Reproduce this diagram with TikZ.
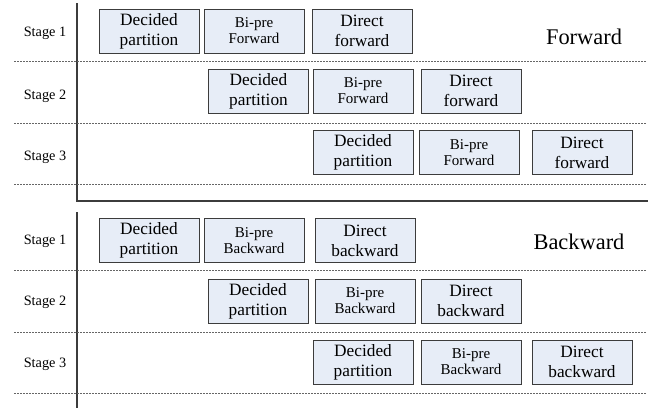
\documentclass[tikz,border=0pt]{standalone}
\usepackage{fontspec}
\setmainfont{Liberation Serif}
\usepackage{tikz}

\definecolor{boxfill}{RGB}{231,237,247}
\definecolor{boxline}{RGB}{60,60,60}
\tikzset{
	stagebox/.style={draw=boxline,line width=0.9pt,fill=boxfill,minimum width=100pt,minimum height=44pt,inner sep=1pt,align=center,font=\fontsize{17.3}{20}\selectfont},
	prebox/.style={stagebox,font=\fontsize{15}{16}\selectfont},
	stagelab/.style={font=\fontsize{14.3}{16}\selectfont},
	sep/.style={draw=gray!80!black,line width=0.7pt,dash pattern=on 2pt off 1pt},
	axis/.style={draw=boxline,line width=1.8pt}
}

\begin{document}
\begin{tikzpicture}[x=1pt,y=-1pt]
					\useasboundingbox (0,0) rectangle (652,408);
					
					% forward
					\coordinate (ft) at (77,3);
					\coordinate (fo) at (77,201);
					\coordinate (fe) at (648,201);
					\draw[axis](ft)--(fo)--(fe);
					\coordinate (fa1) at (14,61);   \coordinate (fb1) at (646,61);
					\coordinate (fa2) at (14,123);  \coordinate (fb2) at (646,123);
					\coordinate (fa3) at (14,184);  \coordinate (fb3) at (646,184);
					\draw[sep](fa1)--(fb1);
					\draw[sep](fa2)--(fb2);
					\draw[sep](fa3)--(fb3);
					
					\node[stagelab] (fs1) at (45,33) {Stage 1};
					\node[stagelab] (fs2) at (45,96) {Stage 2};
					\node[stagelab] (fs3) at (45,157) {Stage 3};
					\node[font=\fontsize{22.4}{26}\selectfont] (fwd) at (584,37) {Forward};
					
					\node[stagebox] (f11) at (149,31) {Decided\\partition};
					\node[prebox] (f12) at (254,31) {Bi-pre\\Forward};
					\node[stagebox] (f13) at (362,31) {Direct\\forward};
					\node[stagebox] (f21) at (258.5,91) {Decided\\partition};
					\node[prebox] (f22) at (363,91) {Bi-pre\\Forward};
					\node[stagebox] (f23) at (471,91) {Direct\\forward};
					\node[stagebox] (f31) at (363,152.5) {Decided\\partition};
					\node[prebox] (f32) at (469,152.5) {Bi-pre\\Forward};
					\node[stagebox] (f33) at (582,152.5) {Direct\\forward};
					
					% backward
					\coordinate (bt) at (77,212);
					\coordinate (bo) at (77,408);
					\draw[axis](bt)--(bo);
					\coordinate (ba1) at (14,270);  \coordinate (bb1) at (646,270);
					\coordinate (ba2) at (14,332);  \coordinate (bb2) at (646,332);
					\coordinate (ba3) at (14,393);  \coordinate (bb3) at (646,393);
					\draw[sep](ba1)--(bb1);
					\draw[sep](ba2)--(bb2);
					\draw[sep](ba3)--(bb3);
					
					\node[stagelab] (bs1) at (45,241) {Stage 1};
					\node[stagelab] (bs2) at (45,302) {Stage 2};
					\node[stagelab] (bs3) at (45,364) {Stage 3};
					\node[font=\fontsize{22.4}{26}\selectfont] (bwd) at (579,242) {Backward};
					
					\node[stagebox] (b11) at (149,240.5) {Decided\\partition};
					\node[prebox] (b12) at (254,240.5) {Bi-pre\\Backward};
					\node[stagebox] (b13) at (365,240.5) {Direct\\backward};
					\node[stagebox] (b21) at (258,301) {Decided\\partition};
					\node[prebox] (b22) at (365,301) {Bi-pre\\Backward};
					\node[stagebox] (b23) at (471,301) {Direct\\backward};
					\node[stagebox] (b31) at (363,362) {Decided\\partition};
					\node[prebox] (b32) at (471,362) {Bi-pre\\Backward};
					\node[stagebox] (b33) at (582,362) {Direct\\backward};
\end{tikzpicture}
\end{document}
